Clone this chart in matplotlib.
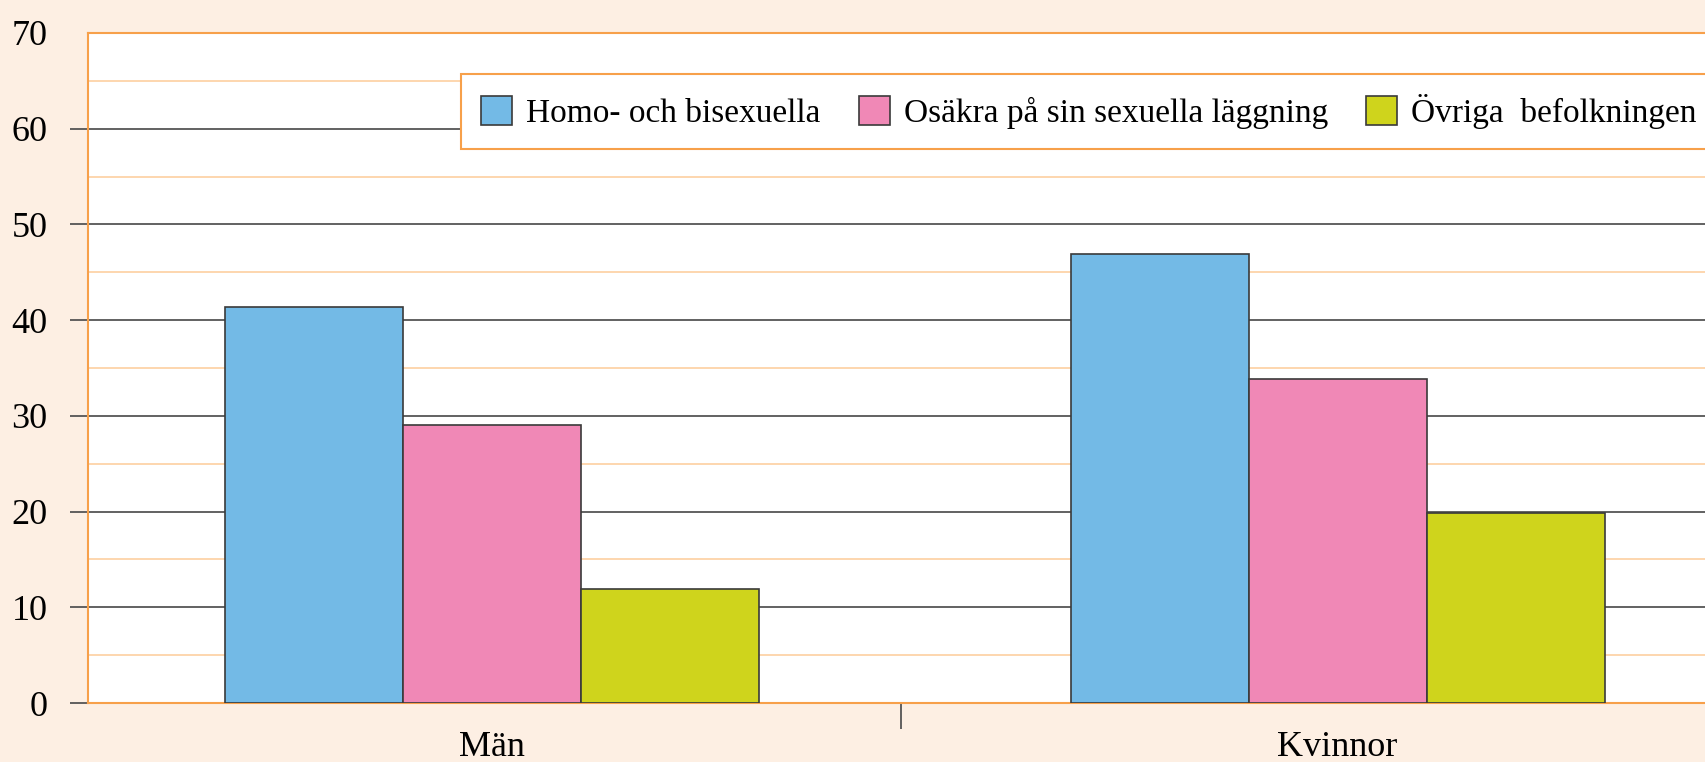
import matplotlib.pyplot as plt
import numpy as np

plt.rcParams['font.family'] = ['Liberation Serif', 'DejaVu Serif']

categories = ['Män', 'Kvinnor']
series = ['Homo- och bisexuella', 'Osäkra på sin sexuella läggning', 'Övriga  befolkningen']
homo_bi = [41.4, 46.9]
osakra = [29.0, 33.8]
ovriga = [11.9, 19.9]
values = [homo_bi, osakra, ovriga]
colours = ['#73BAE6', '#F088B6', '#CFD41C']

bg = '#FDEFE3'
orange = '#F7A04A'
W, H = 1705, 762

fig = plt.figure(figsize=(W / 100, H / 100), dpi=100, facecolor=bg)
ax = fig.add_axes([88 / W, 1 - 703 / H, (1730 - 88) / W, (703 - 33) / H])
ax.set_facecolor('white')

x = np.arange(len(categories))
width = 0.2106
for i in range(3):
    ax.bar(x + (i - 1) * width, values[i], width, color=colours[i],
           edgecolor='#3a3a3a', linewidth=1.2, label=series[i], zorder=3)

ax.set_xlim(-0.478, 1.464)
ax.set_ylim(0, 70)

# y axis: dark major grid, light orange minor grid
ax.set_yticks(np.arange(0, 71, 10))
ax.set_yticks(np.arange(5, 70, 10), minor=True)
ax.grid(axis='y', which='major', color='#555555', linewidth=1.3, zorder=1)
ax.grid(axis='y', which='minor', color='#FDD3A8', linewidth=1.3, zorder=1)
ax.tick_params(axis='y', which='major', length=13, width=1.3, color='#555555',
               labelsize=26, pad=16)
ax.tick_params(axis='y', which='minor', length=0)
top = ax.yaxis.get_major_ticks()[-1]
top.tick1line.set_visible(False)
top.gridline.set_visible(False)

# x axis: labels under groups, one divider tick
ax.set_xticks(x)
ax.set_xticklabels(categories)
ax.set_xticks([0.484], minor=True)
ax.tick_params(axis='x', which='major', length=0, labelsize=26, pad=20)
ax.tick_params(axis='x', which='minor', length=19, width=1.3, color='#555555')

for s in ax.spines.values():
    s.set_color(orange)
    s.set_linewidth(1.5)

leg = ax.legend(loc='upper left', bbox_to_anchor=(461 / W, 1 - 74 / H),
                bbox_transform=fig.transFigure, ncol=3, fontsize=24,
                frameon=True, fancybox=False, framealpha=1, edgecolor=orange,
                handlelength=0.93, handleheight=0.95, handletextpad=0.42,
                columnspacing=1.15, borderpad=0.6, borderaxespad=0)
leg.get_frame().set_linewidth(1.5)

plt.savefig('out.png', dpi=100, facecolor=bg)
